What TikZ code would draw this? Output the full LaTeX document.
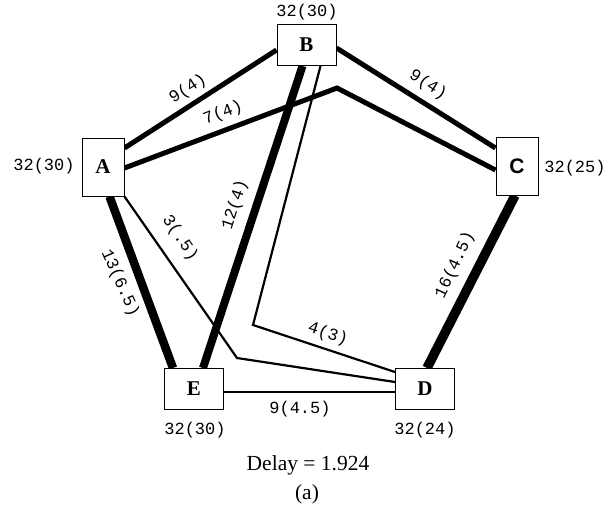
\documentclass[tikz,border=0pt]{standalone}
\usepackage{fontspec}
\setmainfont{Liberation Serif}
\newfontfamily\labfont{Liberation Mono}
\newfontfamily\sansbold{Liberation Sans}
\pgfdeclarelayer{bg}
\pgfsetlayers{bg,main}
\begin{document}
\begin{tikzpicture}[x=1pt,y=-1pt,
  station/.style={draw, line width=1pt, fill=white, inner sep=0pt,
    font=\fontsize{21}{21}\selectfont\bfseries},
  tall/.style={minimum width=42pt, minimum height=58pt},
  wide/.style={minimum width=59pt, minimum height=41pt},
  lbl/.style={font=\labfont\fontsize{17}{17}\selectfont, inner sep=0pt},
  link/.style={line width=#1, line join=miter},
  caption/.style={font=\fontsize{21.5}{23}\selectfont, inner sep=0pt},
]
\useasboundingbox (0,0) rectangle (614,507);

% stations
\node[station, tall] (A) at (103,167) {A};
\node[station, wide] (B) at (306.5,45) {B};
\node[station, tall] (C) at (517,166) {\sansbold\bfseries C};
\node[station, wide] (D) at (425,389) {D};
\node[station, wide] (E) at (194,389) {E};

% capacities (flows)
\node[lbl] (capA) at (44,166) {32(30)};
\node[lbl] (capB) at (307,12) {32(30)};
\node[lbl] (capC) at (575,168) {32(25)};
\node[lbl] (capD) at (425,430) {32(24)};
\node[lbl] (capE) at (195,430) {32(30)};

% bend points of routed links
\coordinate (bendAC) at (337,88);
\coordinate (bendBD) at (253,325);
\coordinate (bendAD) at (237,358);

\begin{pgfonlayer}{bg}
\draw[link=5pt] ([yshift=19pt]A.east) -- ([yshift=-5pt]B.west);
\draw[link=5pt] ([yshift=-1pt]A.east) -- (bendAC) -- ([yshift=-4pt]C.west);
\draw[link=5pt] ([yshift=-3pt]B.east) -- ([yshift=18pt]C.west);
\draw[link=8pt] ([xshift=-4pt]B.south) -- ([xshift=9pt]E.north);
\draw[link=8.5pt] ([xshift=6.5pt]A.south) -- ([xshift=-21pt]E.north);
\draw[link=2.2pt] ([xshift=14pt]B.south) -- (bendBD) -- ([yshift=17pt]D.west);
\draw[link=2.2pt] (A.south east) -- (bendAD) -- ([yshift=7pt]D.west);
\draw[link=2.5pt] ([yshift=-3pt]E.east) -- ([yshift=-3pt]D.west);
\draw[link=9.5pt] ([xshift=-2pt]C.south) -- ([xshift=2pt]D.north);
\end{pgfonlayer}

% link labels: capacity (flow)
\node[lbl, rotate=33] (lAB) at (188,89) {9(4)};
\node[lbl, rotate=21] (lAC) at (223,113) {7(4)};
\node[lbl, rotate=-32] (lBC) at (428,85) {9(4)};
\node[lbl, rotate=72] (lBE) at (235,205) {12(4)};
\node[lbl, rotate=-56] (lAD) at (180,238) {3(.5)};
\node[lbl, rotate=-66] (lAE) at (120,283) {13(6.5)};
\node[lbl, rotate=65] (lCD) at (455,265) {16(4.5)};
\node[lbl, rotate=-18] (lBD) at (328,334) {4(3)};
\node[lbl] (lED) at (300,409) {9(4.5)};

% caption
\node[caption] (delay) at (308,465) {Delay = 1.924};
\node[caption] (sub) at (307,494) {(a)};
\end{tikzpicture}
\end{document}
